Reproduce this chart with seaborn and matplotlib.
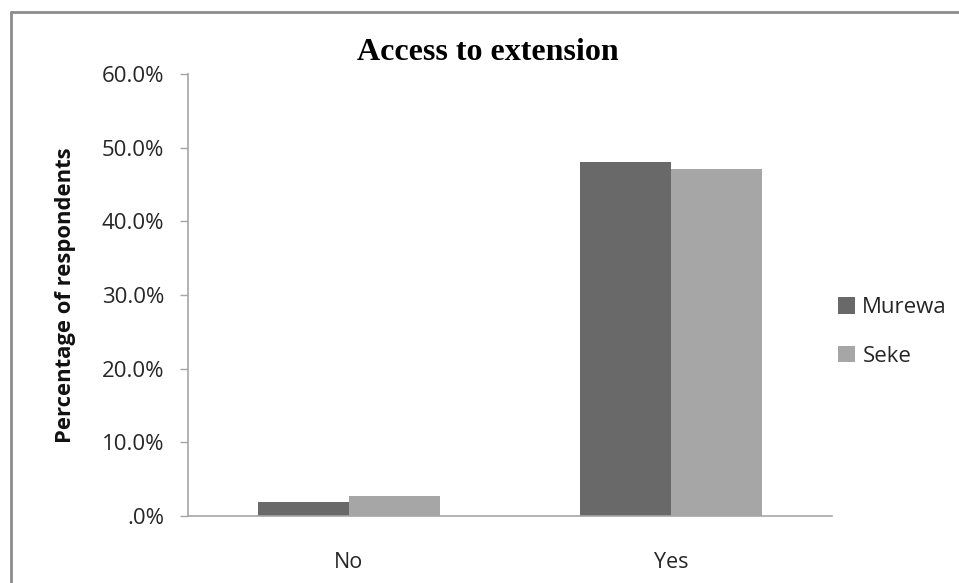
import matplotlib
matplotlib.use("Agg")
import matplotlib.pyplot as plt
import seaborn as sns
import pandas as pd
from matplotlib.ticker import FuncFormatter
from matplotlib.lines import Line2D
from matplotlib.patches import Patch

categories = ["No", "Yes"]
series = ["Murewa", "Seke"]
murewa = [1.9, 48.1]
seke = [2.7, 47.1]
colors = ["#696969", "#a6a6a6"]

df = pd.DataFrame({
    "Response": categories * 2,
    "Location": [series[0]] * 2 + [series[1]] * 2,
    "Value": murewa + seke,
})

sns.set_theme(style="white")
plt.rcParams["font.family"] = ["Open Sans", "DejaVu Sans"]

fig = plt.figure(figsize=(9.59, 5.83), dpi=100)
ax = fig.add_axes([188/959, 1-516/583, (832-188)/959, (516-74)/583])

sns.barplot(data=df, x="Response", y="Value", hue="Location", palette=colors,
            width=0.566, gap=0, ax=ax, legend=False, edgecolor="none", linewidth=0,
            errorbar=None)

ax.set_ylim(0, 60)
ax.set_yticks([0, 10, 20, 30, 40, 50, 60])
def fmt(v, p):
    return ".0%" if v == 0 else f"{v:.1f}%"
ax.yaxis.set_major_formatter(FuncFormatter(fmt))
ax.set_xlim(-0.5, 1.5)

for s in ["top", "right"]:
    ax.spines[s].set_visible(False)
for s in ["left", "bottom"]:
    ax.spines[s].set_color("#a6a6a6")
    ax.spines[s].set_linewidth(1.2)

ax.tick_params(axis="y", which="major", left=True, length=6, width=1, color="#a6a6a6",
               labelsize=16, pad=11, labelcolor="#262626")
ax.tick_params(axis="x", which="major", bottom=False, labelsize=15.5, pad=20, labelcolor="#262626")

ax.set_xlabel("")
ax.set_ylabel("Percentage of respondents", fontsize=15.8, fontweight="bold", color="#111111")
ax.yaxis.set_label_coords((65 - 188) / (832 - 188), 0.5)
ax.yaxis.label.set_va("center")

fig.text(488/959, 1 - 53/583, "Access to extension", ha="center", va="center",
         fontsize=23, fontweight="bold", family="Liberation Serif", color="#000000")

handles = [Patch(facecolor=c, edgecolor="none") for c in colors]
fig.legend(handles, series, loc="center left", bbox_to_anchor=(829/959, 1 - 332/583),
           frameon=False, fontsize=16, handlelength=0.75, handleheight=0.75,
           handletextpad=0.35, labelspacing=1.25, borderaxespad=0, labelcolor="#262626")

# partial figure border (left and top visible)
fig.add_artist(Line2D([11/959, 11/959], [0, 1 - 12/583], transform=fig.transFigure,
                      color="#8c8c8c", linewidth=2))
fig.add_artist(Line2D([11/959, 1], [1 - 12/583, 1 - 12/583], transform=fig.transFigure,
                      color="#8c8c8c", linewidth=2))

fig.savefig("out.png", dpi=100)
